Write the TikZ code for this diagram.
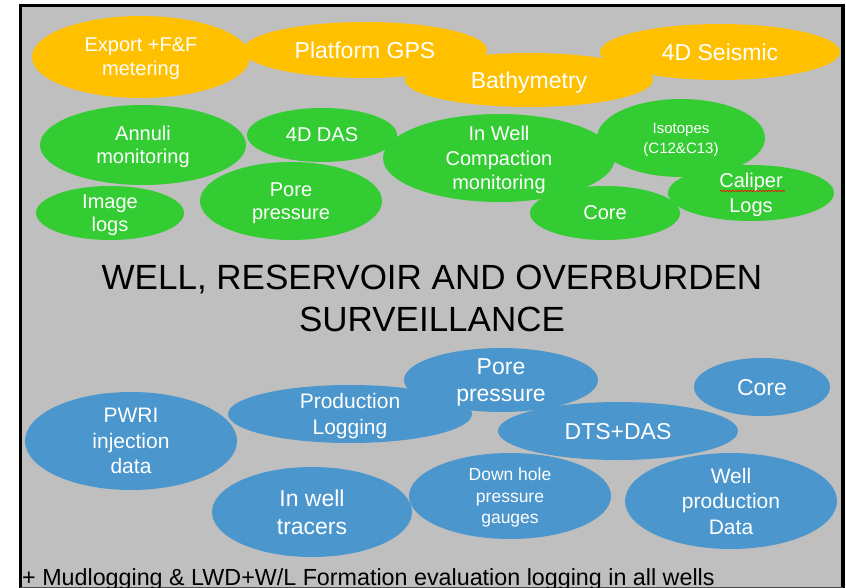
\documentclass[tikz,border=0pt]{standalone}
\usepackage{fontspec}
\setmainfont{Liberation Sans}
\usetikzlibrary{shapes.geometric,decorations.pathmorphing}
\definecolor{topside}{RGB}{255,192,0}
\definecolor{wellbore}{RGB}{51,204,51}
\definecolor{producer}{RGB}{74,150,205}
\definecolor{slide}{RGB}{191,191,191}
\tikzset{
  blob/.style         = {ellipse, inner sep=-12pt, text depth=0pt, align=center, text=white},
  topblob/.style      = {blob, fill=topside},
  wellblob/.style     = {blob, fill=wellbore},
  prodblob/.style     = {blob, fill=producer},
  rad/.style 2 args   = {minimum width=2*#1, minimum height=2*#2},
  fsize/.style 2 args = {font=\fontsize{#1}{#2}\selectfont},
  heading/.style      = {font=\fontsize{35}{42}\selectfont, text=black, inner sep=0pt, anchor=base},
  speller/.style      = {red, line width=0.6pt, decorate, decoration={snake, amplitude=0.8pt, segment length=3pt}}
}

\begin{document}
\begin{tikzpicture}[x=1pt, y=-1pt]
  \useasboundingbox (0,0) rectangle (846,588);
  \fill[slide] (20,5) rectangle (843,588);
  \draw[black, line width=3.5pt] (20.5,592) -- (20.5,5.5) -- (843,5.5) -- (843,592);
  \draw[black!70, line width=1pt] (20,587) -- (843,587);
  % surface measurements
  \node[topblob, rad={109}{41}, fsize={20}{24}] (export) at (141,57) {Export +F\&F\\metering};
  \node[topblob, rad={122}{28}, fsize={23}{27}] (gps) at (365,50) {Platform GPS};
  \node[topblob, rad={124}{27}, fsize={23}{27}] (bathy) at (529,80) {Bathymetry};
  \node[topblob, rad={120}{28}, fsize={23}{27}] (seismic) at (720,52) {4D Seismic};
  % well and overburden measurements
  \node[wellblob, rad={103}{40}, fsize={20}{23.5}] (annuli) at (143,145) {Annuli\\monitoring};
  \node[wellblob, rad={75}{27}, fsize={20}{23.5}] (das) at (322,135) {4D DAS};
  \node[wellblob, rad={74}{27}, fsize={20}{23.5}] (imagelogs) at (110,213) {Image\\logs};
  \node[wellblob, rad={91}{39}, fsize={20}{23.5}] (porewell) at (291,201) {Pore\\pressure};
  \node[wellblob, rad={116}{44}, fsize={20}{24.5}] (compaction) at (499,158) {In Well\\Compaction\\monitoring};
  \node[wellblob, rad={84}{39}, fsize={15}{20}] (isotopes) at (681,138) {Isotopes\\(C12\&C13)};
  \node[wellblob, rad={75}{27}, fsize={20}{23.5}] (corewell) at (605,213) {Core};
  \node[wellblob, rad={83}{28}, fsize={20}{24.5}] (caliper) at (751,193) {Caliper\\Logs};
  \draw[speller] (720,191) -- (785,191);
  % title
  \node[heading] (headA) at (432,289) {WELL, RESERVOIR AND OVERBURDEN};
  \node[heading] (headB) at (432,331) {SURVEILLANCE};
  % reservoir and production measurements
  \node[prodblob, rad={106}{49}, fsize={21}{25.5}] (pwri) at (131,441) {PWRI\\injection\\data};
  \node[prodblob, rad={122}{29}, fsize={21}{26}] (prodlog) at (350,414) {Production\\Logging};
  \node[prodblob, rad={97}{32}, fsize={23}{27}] (poreprod) at (501,380) {Pore\\pressure};
  \node[prodblob, rad={120}{29}, fsize={23}{27}] (dtsdas) at (618,431) {DTS+DAS};
  \node[prodblob, rad={68}{29}, fsize={23}{27}] (coreprod) at (762,387) {Core};
  \node[prodblob, rad={100}{45}, fsize={23}{28}] (tracers) at (312,512) {In well\\tracers};
  \node[prodblob, rad={101}{43}, fsize={17.5}{21.5}] (gauges) at (510,496) {Down hole\\pressure\\gauges};
  \node[prodblob, rad={106}{48}, fsize={21}{25.5}] (wellprod) at (731,501) {Well\\production\\Data};
  % footnote, cut by the page edge
  \node[anchor=base west, inner sep=0pt, fsize={23.3}{27}] (footer) at (22,585) {+ Mudlogging \& LWD+W/L Formation evaluation logging in all wells};
\end{tikzpicture}
\end{document}
